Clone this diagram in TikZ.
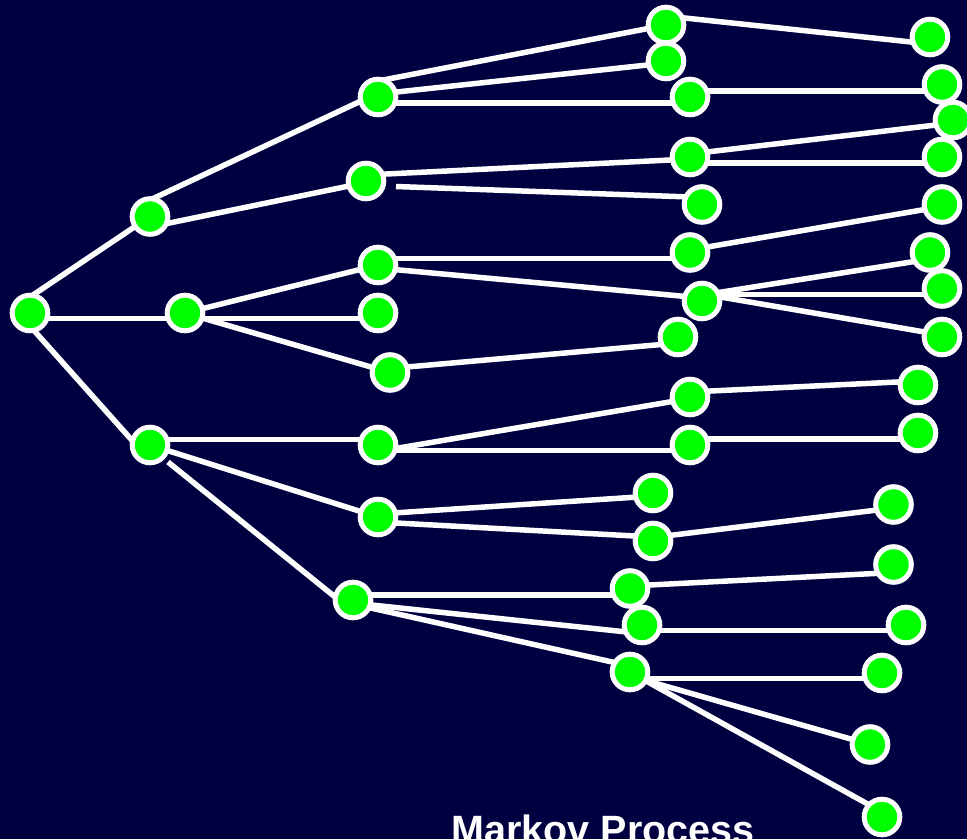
\documentclass[tikz,border=0pt]{standalone}
\usepackage{fontspec}
\setmainfont{Liberation Sans}
\usetikzlibrary{calc}
\definecolor{navy}{RGB}{0,0,64}
\definecolor{leaf}{RGB}{0,255,0}
\begin{document}
\begin{tikzpicture}[x=1pt,y=-1pt,
  state/.style={circle,draw=white,fill=leaf,line width=5pt,minimum size=35.6pt,inner sep=0pt},
  link/.style={draw=white,line width=5.5pt}]
% canvas
\fill[navy] (0,0) rectangle (967,839);
\useasboundingbox (0,0) rectangle (967,839);
\clip (0,0) rectangle (967,839);

% state positions (node bodies are drawn last, over the links)
\coordinate (A) at (30,313);
\coordinate (B1) at (150,216.5);
\coordinate (B2) at (185,313);
\coordinate (B3) at (150,445);
\coordinate (C1) at (378,97);
\coordinate (C2) at (366,181);
\coordinate (C3) at (378,265);
\coordinate (C4) at (378,313);
\coordinate (C5) at (390,372.5);
\coordinate (C6) at (378,445);
\coordinate (C7) at (378,517);
\coordinate (C8) at (353,600);
\coordinate (D1) at (666,25);
\coordinate (D2) at (666,61);
\coordinate (D3) at (690,97);
\coordinate (D4) at (690,157);
\coordinate (D5) at (702,204.5);
\coordinate (D6) at (690,252.5);
\coordinate (D7) at (702,301);
\coordinate (D8) at (678,337);
\coordinate (D9) at (690,397);
\coordinate (D10) at (690,445);
\coordinate (D11) at (653,493);
\coordinate (D12) at (653,541);
\coordinate (D13) at (630,588.5);
\coordinate (D14) at (642,625);
\coordinate (D15) at (630,672);
\coordinate (E1) at (930,37);
\coordinate (E2) at (942,84.5);
\coordinate (E3) at (953,120);
\coordinate (E4) at (942,157);
\coordinate (E5) at (942,204.5);
\coordinate (E6) at (930,252.5);
\coordinate (E7) at (942,288.5);
\coordinate (E8) at (942,337);
\coordinate (E9) at (918,385);
\coordinate (E10) at (918,433);
\coordinate (E11) at (893.5,504.5);
\coordinate (E12) at (893.5,564.5);
\coordinate (E13) at (906,625);
\coordinate (E14) at (882,673);
\coordinate (E15) at (870,744.5);
\coordinate (E16) at (882,817);
% loose starts of two links and the fan point of D7
\coordinate (s1) at (168,462);
\coordinate (s2) at (396,186.5);
\coordinate (fan) at ($(D7)+(4,-6.5)$);

% links
\path[link] ($(A)+(0,-16)$) -- (B1);
\path[link] ($(A)+(0,5.5)$) -- ($(B2)+(0,5.5)$);
\path[link] ($(A)+(0,13)$) -- ($(B3)+(-12,2)$);
\path[link] ($(B1)+(0,-16.5)$) -- ($(C1)+(0,-4)$);
\path[link] ($(B1)+(0,10.5)$) -- ($(C2)+(0,1.5)$);
\path[link] (B2) -- (C3);
\path[link] ($(B2)+(0,5.5)$) -- ($(C4)+(0,5.5)$);
\path[link] (B2) -- (C5);
\path[link] ($(B3)+(0,-5.7)$) -- ($(C6)+(0,-5.7)$);
\path[link] (B3) -- (C7);
\path[link] (s1) -- ($(C8)+(-8,5)$);
\path[link] ($(C1)+(0,-16)$) -- (D1);
\path[link] ($(C1)+(0,-3)$) -- ($(D2)+(0,2)$);
\path[link] ($(C1)+(0,6)$) -- ($(D3)+(0,6)$);
\path[link] ($(C2)+(0,-6)$) -- ($(D4)+(0,2)$);
\path[link] (s2) -- ($(D5)+(-12,-7.5)$);
\path[link] ($(C3)+(0,-6.5)$) -- ($(D6)+(0,6)$);
\path[link] ($(C3)+(0,3)$) -- ($(D7)+(0,-3)$);
\path[link] ($(C5)+(0,-4)$) -- ($(D8)+(0,6)$);
\path[link] ($(C6)+(0,6.5)$) -- ($(D9)+(0,1.5)$);
\path[link] ($(C6)+(0,5.7)$) -- ($(D10)+(0,5.7)$);
\path[link] ($(C7)+(0,-3)$) -- ($(D11)+(0,3)$);
\path[link] ($(C7)+(0,5)$) -- ($(D12)+(0,-4)$);
\path[link] ($(C8)+(0,-5)$) -- ($(D13)+(0,6.5)$);
\path[link] ($(C8)+(0,3)$) -- ($(D14)+(0,8.6)$);
\path[link] ($(C8)+(0,4)$) -- ($(D15)+(0,-6)$);
\path[link] ($(D1)+(0,-9)$) -- ($(E1)+(0,7)$);
\path[link] ($(D3)+(0,-6.2)$) -- ($(E2)+(0,6.3)$);
\path[link] ($(D4)+(0,-3)$) -- ($(E3)+(0,3)$);
\path[link] ($(D4)+(0,6)$) -- ($(E4)+(0,6)$);
\path[link] ($(D6)+(0,-2.5)$) -- ($(E5)+(0,2)$);
\path[link] (fan) -- ($(E6)+(0,6.5)$);
\path[link] (fan) -- ($(E7)+(0,6)$);
\path[link] (fan) -- ($(E8)+(0,-2)$);
\path[link] ($(D9)+(0,-5)$) -- ($(E9)+(0,-4)$);
\path[link] ($(D10)+(0,-6)$) -- ($(E10)+(0,6)$);
\path[link] ($(D12)+(0,-3.5)$) -- ($(E11)+(0,3.5)$);
\path[link] ($(D13)+(0,-2.5)$) -- ($(E12)+(0,8)$);
\path[link] ($(D14)+(0,5.7)$) -- ($(E13)+(0,5.7)$);
\path[link] ($(D15)+(0,6.5)$) -- ($(E14)+(0,5.5)$);
\path[link] ($(D15)+(0,4)$) -- (E15);
\path[link] (D15) -- ($(E16)+(0,-5)$);

% states
\foreach \n in {A,B1,B2,B3,C1,C2,C3,C4,C5,C6,C7,C8,
  D1,D2,D3,D4,D5,D6,D7,D8,D9,D10,D11,D12,D13,D14,D15,
  E1,E2,E3,E4,E5,E6,E7,E8,E9,E10,E11,E12,E13,E14,E15,E16}
  \node[state] (n\n) at (\n) {};

% caption
\node[anchor=base,inner sep=0pt,text=white,font=\bfseries\fontsize{39.5}{44}\selectfont] (caption) at (603,843) {Markov Process};
\end{tikzpicture}
\end{document}
